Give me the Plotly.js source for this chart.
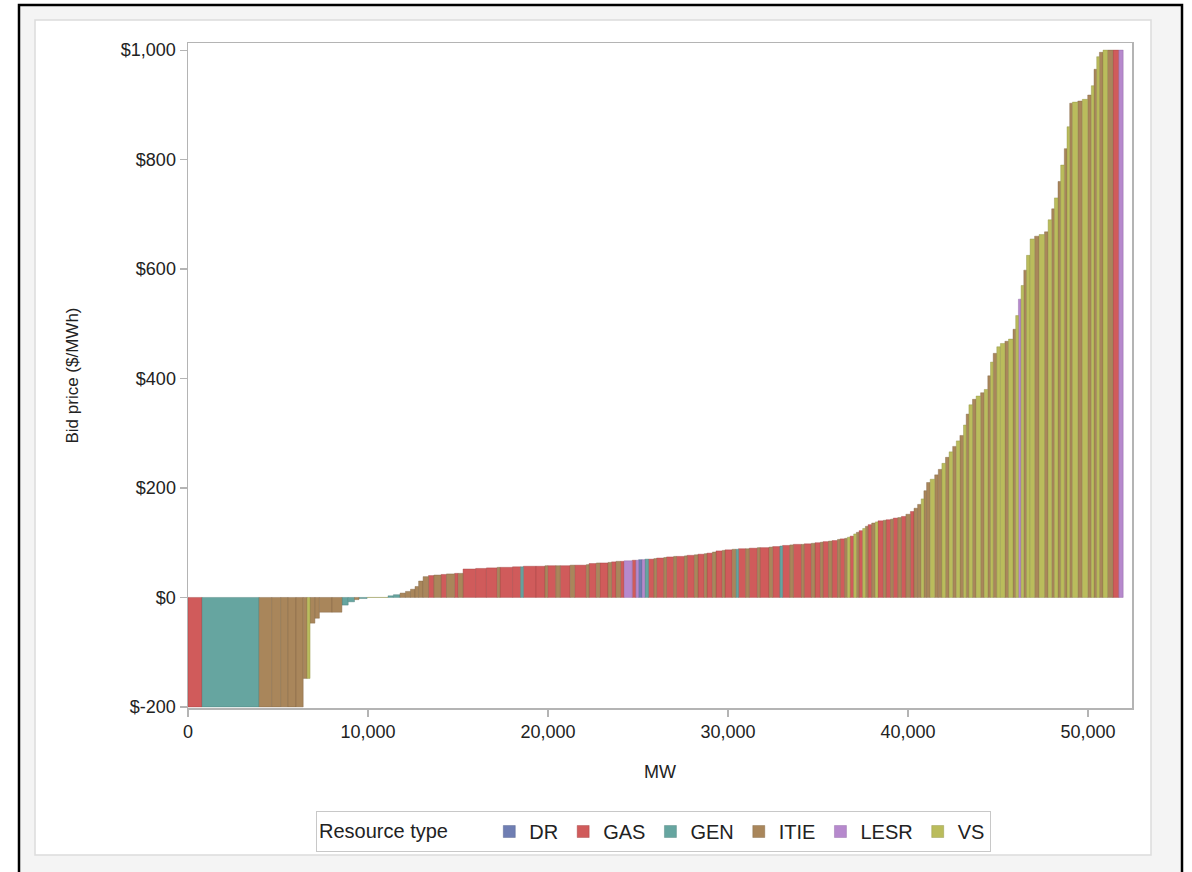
<!DOCTYPE html>
<html>
<head>
<meta charset="utf-8">
<script src="https://cdn.plot.ly/plotly-3.0.1.min.js"></script>
<style>
html, body { margin: 0; padding: 0; background: #ffffff; }
#chart { width: 1192px; height: 872px; }
</style>
</head>
<body>
<div id="chart"></div>
<script>
// Offer segments in merit order: block size (MW), bid price ($/MWh), resource type
const mw = [
  780, 3170, 700, 500, 400, 450, 400, 220, 160, 270,
  250, 700, 550, 350, 350, 250, 450, 1160, 300, 370,
  300, 280, 250, 200, 250, 300, 300, 400, 300, 450,
  200, 270, 700, 600, 600, 150, 700, 450, 150, 700,
  500, 150, 450, 250, 550, 250, 650, 150, 400, 200,
  450, 200, 250, 250, 200, 450, 200, 150, 200, 150,
  200, 300, 150, 400, 150, 400, 150, 450, 150, 400,
  200, 350, 150, 300, 200, 350, 150, 400, 200, 150,
  400, 200, 450, 150, 500, 200, 400, 150, 400, 200,
  450, 150, 400, 200, 300, 150, 300, 200, 300, 150,
  250, 150, 150, 200, 150, 150, 200, 150, 150, 200,
  200, 150, 300, 150, 250, 150, 250, 200, 250, 250,
  200, 200, 200, 150, 150, 200, 250, 200, 200, 200,
  200, 200, 200, 200, 200, 150, 150, 200, 200, 250,
  200, 200, 150, 150, 200, 200, 250, 200, 250, 150,
  150, 150, 150, 150, 200, 250, 250, 300, 200, 200,
  150, 200, 150, 200, 150, 150, 150, 300, 250, 300,
  200, 150, 150, 150, 200, 250, 300, 330, 240
];
const price = [
  -200, -200, -200, -200, -200, -200, -200, -148, -148, -47,
  -38, -27, -27, -14, -8, -4, -2, 0, 3, 5,
  8, 11, 15, 20, 30, 38, 40, 41, 42, 43,
  44, 44, 52, 53, 54, 55, 55, 56, 56, 57,
  57, 58, 58, 58, 58, 59, 59, 60, 62, 63,
  63, 64, 65, 66, 66, 67, 68, 68, 69, 69,
  70, 70, 71, 72, 73, 74, 75, 75, 76, 77,
  78, 79, 80, 81, 83, 85, 86, 87, 88, 88,
  89, 89, 90, 91, 91, 92, 93, 94, 95, 96,
  97, 97, 98, 99, 100, 101, 102, 103, 104, 106,
  107, 108, 110, 112, 116, 119, 122, 126, 130, 133,
  136, 138, 140, 141, 142, 143, 145, 146, 148, 152,
  157, 163, 170, 180, 195, 210, 216, 224, 234, 245,
  256, 266, 276, 286, 296, 315, 335, 352, 362, 368,
  374, 380, 405, 430, 446, 458, 464, 468, 472, 490,
  515, 545, 570, 598, 625, 655, 660, 663, 668, 690,
  710, 730, 760, 790, 820, 860, 903, 905, 907, 910,
  918, 935, 965, 988, 996, 1000, 1000, 1000, 1000
];
const rtype = [
  'GAS', 'GEN', 'ITIE', 'ITIE', 'ITIE', 'ITIE', 'ITIE', 'ITIE', 'VS', 'ITIE',
  'ITIE', 'ITIE', 'ITIE', 'GEN', 'GEN', 'ITIE', 'GEN', 'VS', 'GEN', 'GEN',
  'ITIE', 'ITIE', 'ITIE', 'ITIE', 'ITIE', 'ITIE', 'GAS', 'ITIE', 'GAS', 'ITIE',
  'GAS', 'ITIE', 'GAS', 'GAS', 'GAS', 'ITIE', 'GAS', 'GAS', 'GEN', 'GAS',
  'GAS', 'ITIE', 'GAS', 'ITIE', 'GAS', 'ITIE', 'GAS', 'ITIE', 'GAS', 'ITIE',
  'GAS', 'ITIE', 'GAS', 'ITIE', 'GAS', 'LESR', 'GAS', 'LESR', 'DR', 'LESR',
  'GEN', 'GAS', 'ITIE', 'GAS', 'ITIE', 'GAS', 'ITIE', 'GAS', 'ITIE', 'GAS',
  'ITIE', 'GAS', 'ITIE', 'GAS', 'ITIE', 'GAS', 'ITIE', 'GAS', 'ITIE', 'GEN',
  'GAS', 'ITIE', 'GAS', 'ITIE', 'GAS', 'ITIE', 'GAS', 'GEN', 'GAS', 'ITIE',
  'GAS', 'ITIE', 'GAS', 'ITIE', 'GAS', 'ITIE', 'GAS', 'ITIE', 'GAS', 'ITIE',
  'GAS', 'ITIE', 'VS', 'GAS', 'VS', 'ITIE', 'GAS', 'VS', 'ITIE', 'GAS',
  'ITIE', 'VS', 'GAS', 'ITIE', 'GAS', 'ITIE', 'GAS', 'ITIE', 'GAS', 'ITIE',
  'GAS', 'ITIE', 'ITIE', 'VS', 'ITIE', 'ITIE', 'VS', 'ITIE', 'ITIE', 'VS',
  'ITIE', 'VS', 'ITIE', 'VS', 'ITIE', 'VS', 'ITIE', 'VS', 'ITIE', 'VS',
  'ITIE', 'VS', 'ITIE', 'VS', 'ITIE', 'VS', 'VS', 'ITIE', 'VS', 'ITIE',
  'VS', 'LESR', 'VS', 'ITIE', 'VS', 'VS', 'ITIE', 'VS', 'ITIE', 'VS',
  'ITIE', 'VS', 'ITIE', 'VS', 'ITIE', 'VS', 'ITIE', 'VS', 'ITIE', 'VS',
  'ITIE', 'VS', 'ITIE', 'VS', 'ITIE', 'VS', 'ITIE', 'GAS', 'LESR'
];

const typeOrder = ['DR', 'GAS', 'GEN', 'ITIE', 'LESR', 'VS'];
const typeColors = {
  DR: '#6F7EB3', GAS: '#D05B5B', GEN: '#66A5A0',
  ITIE: '#A9865B', LESR: '#B689CD', VS: '#BABC5C'
};
const typeLines = {
  DR: '#4e5a86', GAS: '#9e3f3f', GEN: '#4a7b77',
  ITIE: '#7d6242', LESR: '#8a62a0', VS: '#8c8e40'
};

const yTickVals = [-200, 0, 200, 400, 600, 800, 1000];
const yTickText = ['$-200', '$0', '$200', '$400', '$600', '$800', '$1,000'];
const xTickVals = [0, 10000, 20000, 30000, 40000, 50000];
const xTickText = ['0', '10,000', '20,000', '30,000', '40,000', '50,000'];

// cumulative MW starting point for each block
const startMW = [];
let running = 0;
for (let i = 0; i < mw.length; i++) { startMW.push(running); running += mw[i]; }

const traces = typeOrder.map(function (t) {
  const xs = [], ws = [], ys = [];
  for (let i = 0; i < mw.length; i++) {
    if (rtype[i] === t) {
      xs.push(startMW[i] + mw[i] / 2);
      ws.push(mw[i]);
      ys.push(price[i]);
    }
  }
  return {
    type: 'bar', name: t, x: xs, y: ys, width: ws,
    marker: { color: typeColors[t], line: { color: typeLines[t], width: 0.4 } },
    hoverinfo: 'skip'
  };
});

const FONT = '"Liberation Sans", Arial, sans-serif';
// plot area: x 188..1132, y 43..708 (px)
function px(x) { return (x - 188) / 944; }
function py(y) { return (708 - y) / 665; }

const NB = '\u00a0';
const layout = {
  width: 1192, height: 872,
  margin: { l: 188, r: 60, t: 43, b: 164 },
  paper_bgcolor: '#ffffff', plot_bgcolor: '#ffffff',
  font: { family: FONT, size: 18, color: '#222' },
  barmode: 'overlay',
  showlegend: true,
  hovermode: false,
  xaxis: {
    range: [0, 52440],
    tickvals: xTickVals, ticktext: xTickText,
    showgrid: false, zeroline: false,
    showline: true, mirror: true, linecolor: '#b4b4b4', linewidth: 1.5,
    ticks: 'outside', ticklen: 7, tickcolor: '#b4b4b4', tickwidth: 1.2,
    tickfont: { family: FONT, size: 18, color: '#222' },
    title: { text: 'MW', font: { family: FONT, size: 18, color: '#222' }, standoff: 24 }
  },
  yaxis: {
    range: [-202, 1013],
    tickvals: yTickVals, ticktext: yTickText,
    showgrid: false, zeroline: false,
    showline: true, mirror: true, linecolor: '#b4b4b4', linewidth: 1.5,
    ticks: 'outside', ticklen: 7, tickcolor: '#b4b4b4', tickwidth: 1.2,
    tickfont: { family: FONT, size: 18, color: '#222' },
    title: { text: 'Bid price ($/MWh)', font: { family: FONT, size: 17, color: '#222' }, standoff: 38 }
  },
  legend: {
    orientation: 'h',
    x: px(316), xanchor: 'left',
    y: py(811), yanchor: 'top',
    bgcolor: '#ffffff', bordercolor: '#c8c8c8', borderwidth: 1,
    font: { family: FONT, size: 20, color: '#222' },
    title: { text: 'Resource type' + NB.repeat(6), side: 'left', font: { family: FONT, size: 20, color: '#222' } },
    traceorder: 'normal', itemclick: false, itemdoubleclick: false
  },
  shapes: [
    { type: 'rect', xref: 'paper', yref: 'paper', layer: 'below',
      x0: px(19), x1: px(1182), y0: py(900), y1: py(5),
      line: { color: '#000000', width: 2.5 }, fillcolor: '#f4f4f4' },
    { type: 'rect', xref: 'paper', yref: 'paper', layer: 'below',
      x0: px(35), x1: px(1151), y0: py(855), y1: py(20),
      line: { color: '#dcdcdc', width: 1.5 }, fillcolor: '#ffffff' }
  ]
};

Plotly.newPlot('chart', traces, layout, { displayModeBar: false, staticPlot: true });
</script>
</body>
</html>
